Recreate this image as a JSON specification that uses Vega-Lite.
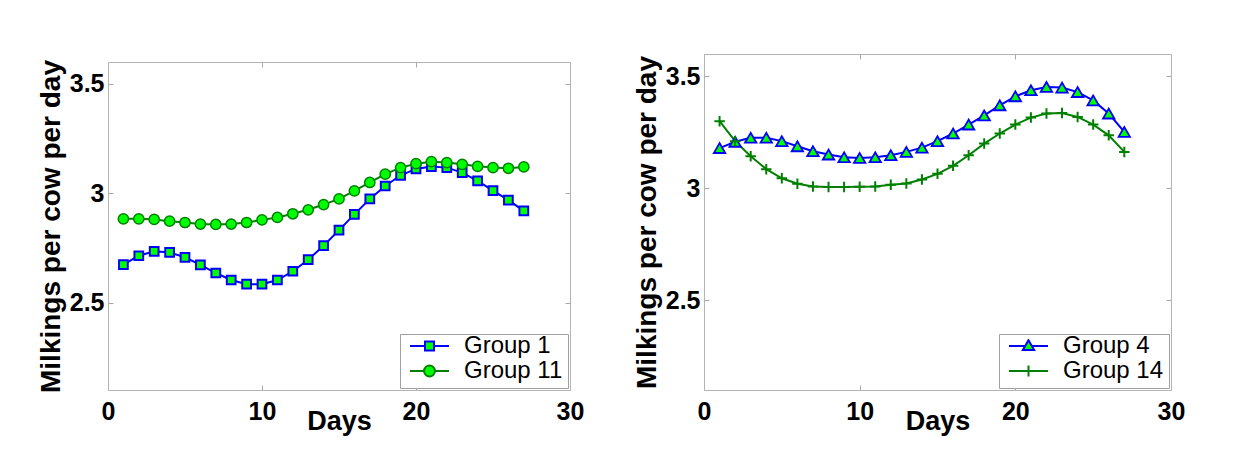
{
  "$schema": "https://vega.github.io/schema/vega-lite/v6.json",
  "background": "white",
  "padding": {"left": 37, "top": 53, "right": 5, "bottom": 5},
  "bounds": "full",
  "align": "none",
  "spacing": 49,
  "resolve": {"scale": {"stroke": "independent"}, "legend": {"stroke": "independent"}},
  "datasets": {
    "milk": [
      {"panel": "A", "group": "Group 1", "day": 1, "milkings": 2.673},
      {"panel": "A", "group": "Group 1", "day": 2, "milkings": 2.714},
      {"panel": "A", "group": "Group 1", "day": 3, "milkings": 2.734},
      {"panel": "A", "group": "Group 1", "day": 4, "milkings": 2.729},
      {"panel": "A", "group": "Group 1", "day": 5, "milkings": 2.707},
      {"panel": "A", "group": "Group 1", "day": 6, "milkings": 2.672},
      {"panel": "A", "group": "Group 1", "day": 7, "milkings": 2.635},
      {"panel": "A", "group": "Group 1", "day": 8, "milkings": 2.603},
      {"panel": "A", "group": "Group 1", "day": 9, "milkings": 2.584},
      {"panel": "A", "group": "Group 1", "day": 10, "milkings": 2.584},
      {"panel": "A", "group": "Group 1", "day": 11, "milkings": 2.603},
      {"panel": "A", "group": "Group 1", "day": 12, "milkings": 2.643},
      {"panel": "A", "group": "Group 1", "day": 13, "milkings": 2.696},
      {"panel": "A", "group": "Group 1", "day": 14, "milkings": 2.76},
      {"panel": "A", "group": "Group 1", "day": 15, "milkings": 2.831},
      {"panel": "A", "group": "Group 1", "day": 16, "milkings": 2.903},
      {"panel": "A", "group": "Group 1", "day": 17, "milkings": 2.974},
      {"panel": "A", "group": "Group 1", "day": 18, "milkings": 3.033},
      {"panel": "A", "group": "Group 1", "day": 19, "milkings": 3.082},
      {"panel": "A", "group": "Group 1", "day": 20, "milkings": 3.111},
      {"panel": "A", "group": "Group 1", "day": 21, "milkings": 3.122},
      {"panel": "A", "group": "Group 1", "day": 22, "milkings": 3.117},
      {"panel": "A", "group": "Group 1", "day": 23, "milkings": 3.094},
      {"panel": "A", "group": "Group 1", "day": 24, "milkings": 3.056},
      {"panel": "A", "group": "Group 1", "day": 25, "milkings": 3.012},
      {"panel": "A", "group": "Group 1", "day": 26, "milkings": 2.968},
      {"panel": "A", "group": "Group 1", "day": 27, "milkings": 2.919},
      {"panel": "A", "group": "Group 11", "day": 1, "milkings": 2.883},
      {"panel": "A", "group": "Group 11", "day": 2, "milkings": 2.883},
      {"panel": "A", "group": "Group 11", "day": 3, "milkings": 2.88},
      {"panel": "A", "group": "Group 11", "day": 4, "milkings": 2.872},
      {"panel": "A", "group": "Group 11", "day": 5, "milkings": 2.866},
      {"panel": "A", "group": "Group 11", "day": 6, "milkings": 2.859},
      {"panel": "A", "group": "Group 11", "day": 7, "milkings": 2.857},
      {"panel": "A", "group": "Group 11", "day": 8, "milkings": 2.859},
      {"panel": "A", "group": "Group 11", "day": 9, "milkings": 2.866},
      {"panel": "A", "group": "Group 11", "day": 10, "milkings": 2.878},
      {"panel": "A", "group": "Group 11", "day": 11, "milkings": 2.889},
      {"panel": "A", "group": "Group 11", "day": 12, "milkings": 2.906},
      {"panel": "A", "group": "Group 11", "day": 13, "milkings": 2.924},
      {"panel": "A", "group": "Group 11", "day": 14, "milkings": 2.948},
      {"panel": "A", "group": "Group 11", "day": 15, "milkings": 2.974},
      {"panel": "A", "group": "Group 11", "day": 16, "milkings": 3.011},
      {"panel": "A", "group": "Group 11", "day": 17, "milkings": 3.049},
      {"panel": "A", "group": "Group 11", "day": 18, "milkings": 3.087},
      {"panel": "A", "group": "Group 11", "day": 19, "milkings": 3.117},
      {"panel": "A", "group": "Group 11", "day": 20, "milkings": 3.135},
      {"panel": "A", "group": "Group 11", "day": 21, "milkings": 3.144},
      {"panel": "A", "group": "Group 11", "day": 22, "milkings": 3.14},
      {"panel": "A", "group": "Group 11", "day": 23, "milkings": 3.132},
      {"panel": "A", "group": "Group 11", "day": 24, "milkings": 3.123},
      {"panel": "A", "group": "Group 11", "day": 25, "milkings": 3.117},
      {"panel": "A", "group": "Group 11", "day": 26, "milkings": 3.114},
      {"panel": "A", "group": "Group 11", "day": 27, "milkings": 3.12},
      {"panel": "B", "group": "Group 4", "day": 1, "milkings": 3.18},
      {"panel": "B", "group": "Group 4", "day": 2, "milkings": 3.208},
      {"panel": "B", "group": "Group 4", "day": 3, "milkings": 3.226},
      {"panel": "B", "group": "Group 4", "day": 4, "milkings": 3.226},
      {"panel": "B", "group": "Group 4", "day": 5, "milkings": 3.211},
      {"panel": "B", "group": "Group 4", "day": 6, "milkings": 3.188},
      {"panel": "B", "group": "Group 4", "day": 7, "milkings": 3.166},
      {"panel": "B", "group": "Group 4", "day": 8, "milkings": 3.151},
      {"panel": "B", "group": "Group 4", "day": 9, "milkings": 3.139},
      {"panel": "B", "group": "Group 4", "day": 10, "milkings": 3.136},
      {"panel": "B", "group": "Group 4", "day": 11, "milkings": 3.139},
      {"panel": "B", "group": "Group 4", "day": 12, "milkings": 3.148},
      {"panel": "B", "group": "Group 4", "day": 13, "milkings": 3.163},
      {"panel": "B", "group": "Group 4", "day": 14, "milkings": 3.182},
      {"panel": "B", "group": "Group 4", "day": 15, "milkings": 3.211},
      {"panel": "B", "group": "Group 4", "day": 16, "milkings": 3.245},
      {"panel": "B", "group": "Group 4", "day": 17, "milkings": 3.285},
      {"panel": "B", "group": "Group 4", "day": 18, "milkings": 3.326},
      {"panel": "B", "group": "Group 4", "day": 19, "milkings": 3.371},
      {"panel": "B", "group": "Group 4", "day": 20, "milkings": 3.411},
      {"panel": "B", "group": "Group 4", "day": 21, "milkings": 3.438},
      {"panel": "B", "group": "Group 4", "day": 22, "milkings": 3.453},
      {"panel": "B", "group": "Group 4", "day": 23, "milkings": 3.45},
      {"panel": "B", "group": "Group 4", "day": 24, "milkings": 3.43},
      {"panel": "B", "group": "Group 4", "day": 25, "milkings": 3.393},
      {"panel": "B", "group": "Group 4", "day": 26, "milkings": 3.334},
      {"panel": "B", "group": "Group 4", "day": 27, "milkings": 3.252},
      {"panel": "B", "group": "Group 14", "day": 1, "milkings": 3.3},
      {"panel": "B", "group": "Group 14", "day": 2, "milkings": 3.211},
      {"panel": "B", "group": "Group 14", "day": 3, "milkings": 3.144},
      {"panel": "B", "group": "Group 14", "day": 4, "milkings": 3.086},
      {"panel": "B", "group": "Group 14", "day": 5, "milkings": 3.045},
      {"panel": "B", "group": "Group 14", "day": 6, "milkings": 3.021},
      {"panel": "B", "group": "Group 14", "day": 7, "milkings": 3.009},
      {"panel": "B", "group": "Group 14", "day": 8, "milkings": 3.006},
      {"panel": "B", "group": "Group 14", "day": 9, "milkings": 3.006},
      {"panel": "B", "group": "Group 14", "day": 10, "milkings": 3.007},
      {"panel": "B", "group": "Group 14", "day": 11, "milkings": 3.009},
      {"panel": "B", "group": "Group 14", "day": 12, "milkings": 3.016},
      {"panel": "B", "group": "Group 14", "day": 13, "milkings": 3.022},
      {"panel": "B", "group": "Group 14", "day": 14, "milkings": 3.04},
      {"panel": "B", "group": "Group 14", "day": 15, "milkings": 3.065},
      {"panel": "B", "group": "Group 14", "day": 16, "milkings": 3.101},
      {"panel": "B", "group": "Group 14", "day": 17, "milkings": 3.148},
      {"panel": "B", "group": "Group 14", "day": 18, "milkings": 3.2},
      {"panel": "B", "group": "Group 14", "day": 19, "milkings": 3.245},
      {"panel": "B", "group": "Group 14", "day": 20, "milkings": 3.285},
      {"panel": "B", "group": "Group 14", "day": 21, "milkings": 3.316},
      {"panel": "B", "group": "Group 14", "day": 22, "milkings": 3.334},
      {"panel": "B", "group": "Group 14", "day": 23, "milkings": 3.337},
      {"panel": "B", "group": "Group 14", "day": 24, "milkings": 3.319},
      {"panel": "B", "group": "Group 14", "day": 25, "milkings": 3.285},
      {"panel": "B", "group": "Group 14", "day": 26, "milkings": 3.237},
      {"panel": "B", "group": "Group 14", "day": 27, "milkings": 3.163}
    ]
  },
  "config": {
    "font": "Liberation Sans",
    "view": {"stroke": null},
    "axis": {
      "labelFont": "Liberation Sans",
      "labelFontSize": 25,
      "labelFontWeight": "bold",
      "labelColor": "black",
      "titleFont": "Liberation Sans",
      "titleFontWeight": "bold",
      "titleColor": "black",
      "domain": true,
      "domainColor": "#b4b4b4",
      "domainWidth": 1,
      "grid": false,
      "ticks": true,
      "tickSize": -5,
      "tickColor": "#a8a8a8",
      "labelFlush": false,
      "labelOverlap": false
    },
    "legend": {
      "orient": "bottom-right",
      "offset": 2,
      "title": null,
      "padding": 5,
      "strokeColor": "#a0a0a0",
      "fillColor": "white",
      "labelFont": "Liberation Sans",
      "labelFontSize": 24,
      "labelFontWeight": "normal",
      "labelColor": "black",
      "labelBaseline": "middle",
      "symbolSize": 1521,
      "symbolStrokeWidth": 2,
      "clipHeight": 14,
      "rowPadding": 1,
      "symbolOffset": 4,
      "labelOffset": 14
    }
  },
  "hconcat": [
    {
      "width": 462,
      "height": 336,
      "data": {"name": "milk"},
      "transform": [{"filter": "datum.panel === 'A'"}],
      "resolve": {"axis": {"x": "independent", "y": "independent"}},
      "layer": [
        {
          "mark": {"type": "line", "strokeWidth": 2},
          "encoding": {
            "x": {
              "field": "day", "type": "quantitative",
              "scale": {"domain": [0, 30], "nice": false, "zero": false},
              "axis": {"values": [0, 10, 20, 30], "title": "Days", "titleFontSize": 27, "labelBaseline": "alphabetic", "labelPadding": 34, "titleY": 39, "titleBaseline": "alphabetic"}
            },
            "y": {
              "field": "milkings", "type": "quantitative",
              "scale": {"domain": [2.1, 3.6], "range": [336, 8], "nice": false, "zero": false},
              "axis": {"values": [2.5, 3, 3.5], "format": "~g", "title": "Milkings per cow per day", "titleFontSize": 28, "labelPadding": 9, "titlePadding": 4}
            },
            "stroke": {
              "field": "group", "type": "nominal",
              "scale": {"domain": ["Group 1", "Group 11"], "range": ["#0000ff", "#008000"]},
              "legend": {
                "encode": {
                  "symbols": {
                    "update": {
                      "shape": {"signal": "datum.value === 'Group 1' ? 'M-1,0H-0.23M0.23,0H1M-0.23,-0.23H0.23V0.23H-0.23Z' : 'M-1,0H-0.28M0.28,0H1M-0.28,0A0.28,0.28 0 1,0 0.28,0A0.28,0.28 0 1,0 -0.28,0Z'"},
                      "fill": {"value": "#00ff00"},
                      "strokeWidth": {"value": 2},
                      "size": {"value": 1521},
                      "opacity": {"value": 1}
                    }
                  }
                }
              }
            }
          }
        },
        {
          "transform": [{"filter": "datum.group === 'Group 1'"}],
          "mark": {"type": "point", "shape": "square", "size": 76, "filled": true, "fill": "#00ff00", "stroke": "#0000ff", "strokeWidth": 2, "opacity": 1},
          "encoding": {
            "x": {
              "field": "day", "type": "quantitative",
              "scale": {"domain": [0, 30], "nice": false, "zero": false},
              "axis": {"orient": "top", "values": [0, 10, 20, 30], "labels": false, "title": null, "offset": -8}
            },
            "y": {
              "field": "milkings", "type": "quantitative",
              "scale": {"domain": [2.1, 3.6], "range": [336, 8], "nice": false, "zero": false},
              "axis": {"orient": "right", "values": [2.5, 3, 3.5], "labels": false, "title": null}
            }
          }
        },
        {
          "transform": [{"filter": "datum.group === 'Group 11'"}],
          "mark": {"type": "point", "shape": "circle", "size": 105, "filled": true, "fill": "#00ff00", "stroke": "#008000", "strokeWidth": 1.5, "opacity": 1},
          "encoding": {
            "x": {"field": "day", "type": "quantitative", "scale": {"domain": [0, 30], "nice": false, "zero": false}, "axis": null},
            "y": {"field": "milkings", "type": "quantitative", "scale": {"domain": [2.1, 3.6], "range": [336, 8], "nice": false, "zero": false}, "axis": null}
          }
        }
      ]
    },
    {
      "width": 467,
      "height": 336,
      "data": {"name": "milk"},
      "transform": [{"filter": "datum.panel === 'B'"}],
      "resolve": {"axis": {"x": "independent", "y": "independent"}},
      "layer": [
        {
          "mark": {"type": "line", "strokeWidth": 2},
          "encoding": {
            "x": {
              "field": "day", "type": "quantitative",
              "scale": {"domain": [0, 30], "nice": false, "zero": false},
              "axis": {"values": [0, 10, 20, 30], "title": "Days", "titleFontSize": 27, "labelBaseline": "alphabetic", "labelPadding": 34, "titleY": 39, "titleBaseline": "alphabetic"}
            },
            "y": {
              "field": "milkings", "type": "quantitative",
              "scale": {"domain": [2.1, 3.6], "nice": false, "zero": false},
              "axis": {"values": [2.5, 3, 3.5], "format": "~g", "title": "Milkings per cow per day", "titleFontSize": 28, "labelPadding": 9, "titlePadding": 4}
            },
            "stroke": {
              "field": "group", "type": "nominal",
              "scale": {"domain": ["Group 4", "Group 14"], "range": ["#0000ff", "#008000"]},
              "legend": {
                "encode": {
                  "symbols": {
                    "update": {
                      "shape": {"signal": "datum.value === 'Group 4' ? 'M-1,0H-0.17M0.17,0H1M0,-0.3L0.29,0.21H-0.29Z' : 'M-1,0H1M0,-0.28V0.28'"},
                      "fill": {"value": "#00ff00"},
                      "strokeWidth": {"value": 2},
                      "size": {"value": 1521},
                      "opacity": {"value": 1}
                    }
                  }
                }
              }
            }
          }
        },
        {
          "transform": [{"filter": "datum.group === 'Group 4'"}],
          "mark": {"type": "point", "shape": "triangle-up", "size": 130, "filled": true, "fill": "#00ff00", "stroke": "#0000ff", "strokeWidth": 1.8, "opacity": 1},
          "encoding": {
            "x": {
              "field": "day", "type": "quantitative",
              "scale": {"domain": [0, 30], "nice": false, "zero": false},
              "axis": {"orient": "top", "values": [0, 10, 20, 30], "labels": false, "title": null}
            },
            "y": {
              "field": "milkings", "type": "quantitative",
              "scale": {"domain": [2.1, 3.6], "nice": false, "zero": false},
              "axis": {"orient": "right", "values": [2.5, 3, 3.5], "labels": false, "title": null}
            }
          }
        },
        {
          "transform": [{"filter": "datum.group === 'Group 14'"}],
          "mark": {"type": "point", "shape": "M-1,0H1M0,-1V1", "size": 110, "filled": false, "stroke": "#008000", "strokeWidth": 2, "opacity": 1},
          "encoding": {
            "x": {"field": "day", "type": "quantitative", "scale": {"domain": [0, 30], "nice": false, "zero": false}, "axis": null},
            "y": {"field": "milkings", "type": "quantitative", "scale": {"domain": [2.1, 3.6], "nice": false, "zero": false}, "axis": null}
          }
        }
      ]
    }
  ]
}
